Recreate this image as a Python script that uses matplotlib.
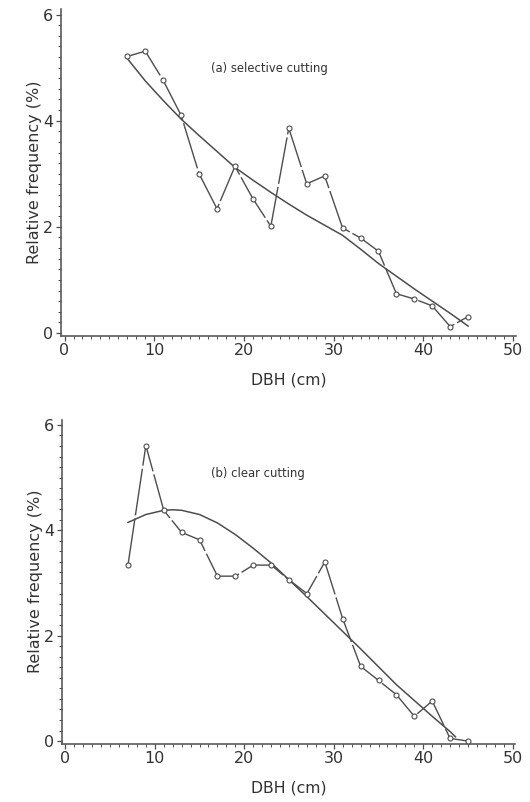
import matplotlib.pyplot as plt
from matplotlib.ticker import MultipleLocator

# DBH class midpoints (cm)
dbh = [7, 9, 11, 13, 15, 17, 19, 21, 23, 25, 27, 29, 31, 33, 35, 37, 39, 41, 43, 45]

# (a) selective cutting, observed relative frequency (%)
freq_a = [5.21, 5.31, 4.76, 4.10, 3.00, 2.34, 3.14, 2.53, 2.01, 3.86,
          2.81, 2.96, 1.98, 1.79, 1.54, 0.74, 0.64, 0.51, 0.12, 0.31]
# (a) fitted curve
fit_x_a = [7, 9, 11, 13, 15, 17, 19, 21, 23, 25, 27, 29, 31, 33, 35, 37,
           39, 41, 43, 45]
fit_y_a = [5.17, 4.75, 4.38, 4.03, 3.72, 3.42, 3.12, 2.88, 2.65, 2.43,
           2.22, 2.03, 1.84, 1.58, 1.31, 1.07, 0.83, 0.60, 0.37, 0.13]

# (b) clear cutting, observed relative frequency (%)
freq_b = [3.34, 5.61, 4.38, 3.96, 3.82, 3.13, 3.13, 3.34, 3.34, 3.06,
          2.80, 3.40, 2.32, 1.42, 1.15, 0.88, 0.47, 0.76, 0.05, 0.0]
# (b) fitted curve
fit_x_b = [7, 9, 11, 12, 13, 15, 17, 19, 21, 23, 25, 27, 29, 31, 33, 35,
           37, 39, 41, 43, 43.6]
fit_y_b = [4.15, 4.30, 4.38, 4.39, 4.38, 4.30, 4.14, 3.92, 3.66, 3.38,
           3.06, 2.74, 2.41, 2.08, 1.75, 1.41, 1.07, 0.77, 0.47, 0.18, 0.08]

panels = [
    ("(a) selective cutting", freq_a, fit_x_a, fit_y_a, (16.3, 4.99)),
    ("(b) clear cutting", freq_b, fit_x_b, fit_y_b, (16.3, 5.08)),
]

ink = '#4d4d4d'
txt = '#333333'

fig = plt.figure(figsize=(5.30, 8.02), dpi=100)
# axes boxes in figure fractions (left, bottom, width, height)
boxes = [(0.115, 0.5815, 0.858, 0.407),
         (0.1165, 0.0727, 0.856, 0.404)]

for (label, freq, fx, fy, pos), box in zip(panels, boxes):
    ax = fig.add_axes(box)
    ax.plot(dbh, freq, color=ink, lw=1.0, dashes=(34, 2.2),
            marker='o', ms=3.6, mfc='white', mec=ink, mew=0.8, zorder=3)
    ax.plot(fx, fy, color=ink, lw=1.1, zorder=2)
    ax.text(pos[0], pos[1], label, fontsize=8.4, color=txt, va='center')

    ax.set_xlim(-0.4, 50.3)
    ax.set_ylim(-0.05, 6.1)
    ax.xaxis.set_major_locator(MultipleLocator(10))
    ax.xaxis.set_minor_locator(MultipleLocator(1))
    ax.yaxis.set_major_locator(MultipleLocator(2))
    ax.yaxis.set_minor_locator(MultipleLocator(0.2))
    for s in ('top', 'right'):
        ax.spines[s].set_visible(False)
    for s in ('left', 'bottom'):
        ax.spines[s].set_color(ink)
        ax.spines[s].set_linewidth(1.1)
    ax.tick_params(which='major', length=3.5, width=0.9, color=ink,
                   labelsize=11.5, labelcolor=txt, pad=2)
    ax.tick_params(which='minor', length=2, width=0.7, color=ink)
    ax.set_xlabel('DBH (cm)', fontsize=11.3, color=txt, labelpad=10)
    ax.set_ylabel('Relative frequency (%)', fontsize=11.5, color=txt,
                  labelpad=1)

fig.savefig('out.png', dpi=100, facecolor='white')
